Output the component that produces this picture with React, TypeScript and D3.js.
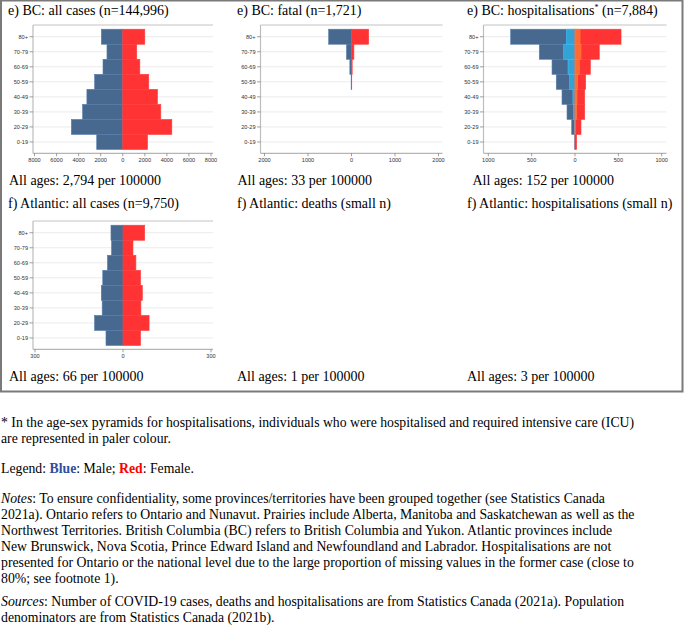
import React from "react";
import * as d3 from "d3";

// ---------- DATA ----------
const ageGroups = ["80+", "70-79", "60-69", "50-59", "40-49", "30-39", "20-29", "0-19"];

const bcCasesMale = [1940, 1430, 1790, 2550, 3250, 3640, 4660, 2360];
const bcCasesFemale = [2000, 1270, 1550, 2360, 3150, 3450, 4450, 2250];

const bcFatalMale = [525, 115, 38, 8, 0, 0, 0, 0];
const bcFatalFemale = [395, 55, 16, 6, 0, 0, 0, 0];

const bcHospMale = [742, 412, 265, 216, 150, 92, 38, 3];
const bcHospMaleICU = [98, 130, 80, 62, 24, 16, 4, 0];
const bcHospFemale = [531, 280, 177, 123, 112, 112, 69, 19];
const bcHospFemaleICU = [58, 69, 50, 31, 23, 19, 3, 0];

const atlCasesMale = [41, 39, 53, 69, 74, 71, 97, 58];
const atlCasesFemale = [74, 34, 44, 60, 66, 61, 89, 60];

const ticksCases = [-8000, -6000, -4000, -2000, 0, 2000, 4000, 6000, 8000];
const ticksFatal = [-2000, -1000, 0, 1000, 2000];
const ticksHosp = [-1000, -500, 0, 500, 1000];
const ticksAtl = [-300, 0, 300];

const titles = [
  "e) BC: all cases (n=144,996)",
  "e) BC: fatal (n=1,721)",
  "e) BC: hospitalisations",
  "f) Atlantic: all cases (n=9,750)",
  "f) Atlantic: deaths (small n)",
  "f) Atlantic: hospitalisations (small n)",
];
const allAges = [
  "All ages: 2,794 per 100000",
  "All ages: 33 per 100000",
  "All ages: 152 per 100000",
  "All ages: 66 per 100000",
  "All ages: 1 per 100000",
  "All ages: 3 per 100000",
];

// ---------- STYLE ----------
const MALE = "#47698f";
const FEMALE = "#ff3333";
const MALE_ICU = "#33a3d6";
const FEMALE_ICU = "#ff6a33";
const SERIF = "'Liberation Serif', 'Times New Roman', serif";
const SANS = "'Liberation Sans', Arial, sans-serif";

type Series = { values: number[]; color: string; side: -1 | 1 };

function Pyramid(props: {
  left: number;
  right: number;
  top: number;
  rangeL: number;
  rangeR: number;
  max: number;
  ticks: number[];
  series: Series[];
}) {
  const { left, right, top, rangeL, rangeR, max, ticks, series } = props;
  const x = d3.scaleLinear().domain([-max, max]).range([rangeL, rangeR]);
  const y = d3.scaleBand().domain(ageGroups).range([top + 4.2, top + 124.5]).padding(0);
  const axisY = top + 128.3;
  const bw = y.bandwidth();
  return (
    <g>
      {ageGroups.map((g) => (
        <line key={"g" + g} x1={left} x2={right} y1={y(g)! + bw / 2} y2={y(g)! + bw / 2} stroke="#ebebeb" strokeWidth={1} />
      ))}
      {series.map((s, si) =>
        s.values.map((v, i) => {
          if (v <= 0) return null;
          const x0 = x(0);
          const x1 = x(s.side * v);
          const edge = d3.color(s.color)!.brighter(0.5).formatHex();
          return (
            <rect
              key={si + "-" + i}
              x={Math.min(x0, x1)}
              width={Math.abs(x1 - x0)}
              y={y(ageGroups[i])!}
              height={bw}
              fill={s.color}
              stroke={edge}
              strokeWidth={0.6}
            />
          );
        })
      )}
      {/* frame */}
      <line x1={left} x2={right} y1={top} y2={top} stroke="#c4c4c4" strokeWidth={1.2} />
      <line x1={left} x2={left} y1={top} y2={axisY} stroke="#bdbdbd" strokeWidth={1.2} />
      <line x1={left} x2={right} y1={axisY} y2={axisY} stroke="#b5b5b5" strokeWidth={1.2} />
      {ageGroups.map((g) => (
        <g key={"yl" + g}>
          <line x1={left - 3.5} x2={left} y1={y(g)! + bw / 2} y2={y(g)! + bw / 2} stroke="#777" strokeWidth={0.7} />
          <text x={left - 5} y={y(g)! + bw / 2 + 2} textAnchor="end" fontFamily={SANS} fontSize={5.6} fill="#333">
            {g}
          </text>
        </g>
      ))}
      {ticks.map((t) => (
        <g key={"xt" + t}>
          <line x1={x(t)} x2={x(t)} y1={axisY} y2={axisY + 3} stroke="#777" strokeWidth={0.7} />
          <text x={x(t)} y={axisY + 9} textAnchor="middle" fontFamily={SANS} fontSize={5.6} fill="#333">
            {Math.abs(t)}
          </text>
        </g>
      ))}
    </g>
  );
}

export default function App() {
  const row1T = 25;
  const row2T = 221;
  const titleX = [8, 237, 467];
  const notesLines = [
    ["Notes", ": To ensure confidentiality, some provinces/territories have been grouped together (see Statistics Canada"],
    ["", "2021a). Ontario refers to Ontario and Nunavut. Prairies include Alberta, Manitoba and Saskatchewan as well as the"],
    ["", "Northwest Territories. British Columbia (BC) refers to British Columbia and Yukon. Atlantic provinces include"],
    ["", "New Brunswick, Nova Scotia, Prince Edward Island and Newfoundland and Labrador. Hospitalisations are not"],
    ["", "presented for Ontario or the national level due to the large proportion of missing values in the former case (close to"],
    ["", "80%; see footnote 1)."],
  ];
  const notesY = [502.5, 518.5, 534.5, 550.5, 566.5, 582.5];
  return (
    <div style={{ position: "absolute", left: 0, top: 0 }}>
      <svg width={685} height={626} style={{ display: "block", background: "#fff" }}>
        <rect x={1} y={0.5} width={681.5} height={391} fill="none" stroke="#7a7a7a" strokeWidth={2} />

        {/* titles row 1 */}
        <text x={titleX[0]} y={15} fontFamily={SERIF} fontSize={14} fill="#000">{titles[0]}</text>
        <text x={titleX[1]} y={15} fontFamily={SERIF} fontSize={14} fill="#000">{titles[1]}</text>
        <text x={titleX[2]} y={15} fontFamily={SERIF} fontSize={14} fill="#000">
          {titles[2]}
          <tspan fontSize={8} dy={-5}>*</tspan>
          <tspan dy={5}> (n=7,884)</tspan>
        </text>

        <Pyramid left={33} right={213} top={row1T} rangeL={34.5} rangeR={211} max={8000} ticks={ticksCases}
          series={[{ values: bcCasesMale, color: MALE, side: -1 }, { values: bcCasesFemale, color: FEMALE, side: 1 }]} />
        <Pyramid left={260.5} right={442.5} top={row1T} rangeL={264.5} rangeR={438.5} max={2000} ticks={ticksFatal}
          series={[{ values: bcFatalMale, color: MALE, side: -1 }, { values: bcFatalFemale, color: FEMALE, side: 1 }]} />
        <Pyramid left={483.5} right={666.5} top={row1T} rangeL={488.3} rangeR={661.7} max={1000} ticks={ticksHosp}
          series={[
            { values: bcHospMale, color: MALE, side: -1 },
            { values: bcHospMaleICU, color: MALE_ICU, side: -1 },
            { values: bcHospFemale, color: FEMALE, side: 1 },
            { values: bcHospFemaleICU, color: FEMALE_ICU, side: 1 },
          ]} />

        <text x={9} y={184.5} fontFamily={SERIF} fontSize={14} fill="#000">{allAges[0]}</text>
        <text x={237.5} y={184.5} fontFamily={SERIF} fontSize={14} fill="#000">{allAges[1]}</text>
        <text x={472.5} y={184.5} fontFamily={SERIF} fontSize={14} fill="#000">{allAges[2]}</text>

        {/* row 2 */}
        <text x={titleX[0]} y={208} fontFamily={SERIF} fontSize={14} fill="#000">{titles[3]}</text>
        <text x={titleX[1]} y={208} fontFamily={SERIF} fontSize={14} fill="#000">{titles[4]}</text>
        <text x={titleX[2]} y={208} fontFamily={SERIF} fontSize={14} fill="#000">{titles[5]}</text>

        <Pyramid left={33} right={213} top={row2T} rangeL={35} rangeR={211} max={300} ticks={ticksAtl}
          series={[{ values: atlCasesMale, color: MALE, side: -1 }, { values: atlCasesFemale, color: FEMALE, side: 1 }]} />

        <text x={9} y={381} fontFamily={SERIF} fontSize={14} fill="#000">{allAges[3]}</text>
        <text x={237} y={381} fontFamily={SERIF} fontSize={14} fill="#000">{allAges[4]}</text>
        <text x={467} y={381} fontFamily={SERIF} fontSize={14} fill="#000">{allAges[5]}</text>

        {/* footnotes */}
        <g fontFamily={SERIF} fontSize={13.75} fill="#000">
          <text x={1} y={426.5}>* In the age-sex pyramids for hospitalisations, individuals who were hospitalised and required intensive care (ICU)</text>
          <text x={1} y={442.5}>are represented in paler colour.</text>
          <text x={1} y={472.5}>
            Legend: <tspan fontWeight="bold" fill="#2f4f9f">Blue</tspan>: Male; <tspan fontWeight="bold" fill="#ff0000">Red</tspan>: Female.
          </text>
          {notesLines.map((l, i) => (
            <text key={i} x={1} y={notesY[i]}>
              {l[0] ? <tspan fontStyle="italic">{l[0]}</tspan> : null}
              {l[1]}
            </text>
          ))}
          <text x={1} y={605.5}>
            <tspan fontStyle="italic">Sources</tspan>: Number of COVID-19 cases, deaths and hospitalisations are from Statistics Canada (2021a). Population
          </text>
          <text x={1} y={621.5}>denominators are from Statistics Canada (2021b).</text>
        </g>
      </svg>
    </div>
  );
}
